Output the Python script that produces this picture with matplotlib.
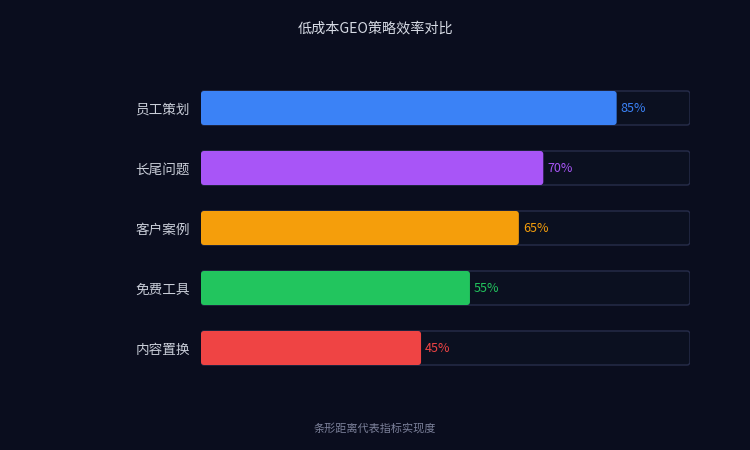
import matplotlib
matplotlib.use("Agg")
import matplotlib.pyplot as plt
from matplotlib.patches import FancyBboxPatch

plt.rcParams['font.family'] = ['Noto Sans CJK SC', 'DejaVu Sans']

# data
categories = ['员工策划', '长尾问题', '客户案例', '免费工具', '内容置换']
values = [85, 70, 65, 55, 45]
colors = ['#3b82f6', '#a855f7', '#f59e0b', '#22c55e', '#ef4444']
full = 100

bg = '#0a0d1e'
fig = plt.figure(figsize=(7.5, 4.5), dpi=100, facecolor=bg)
ax = fig.add_axes([201 / 750, 1 - 378 / 450, 489 / 750, 300 / 450])
ax.set_facecolor(bg)
ax.set_xlim(0, full)
ax.set_ylim(len(categories) - 0.5, -0.5)

ypos = list(range(len(categories)))
h = 34 / 60


def rounded(bars, fc, ec, lw, z):
    # swap plain rectangles for slightly rounded ones
    px_x = 489 / full
    px_y = 60
    r = 3 / px_x
    for b, f in zip(bars, fc):
        x0, y0 = b.get_x(), b.get_y()
        w, hh = b.get_width(), b.get_height()
        b.remove()
        p = FancyBboxPatch((x0, y0), w, hh,
                           boxstyle=f"round,pad=0,rounding_size={r}",
                           mutation_aspect=(px_x / px_y),
                           fc=f, ec=ec, lw=lw, zorder=z)
        ax.add_patch(p)


tracks = ax.barh(ypos, [full] * len(values), height=h)
rounded(tracks, ['#0b1020'] * len(values), '#272d4b', 1.0, 1)
bars = ax.barh(ypos, values, height=h)
rounded(bars, colors, 'none', 0, 2)

for y, v, c in zip(ypos, values, colors):
    ax.annotate(f'{v}%', (v, y), xytext=(3, 0), textcoords='offset points',
                va='center', ha='left', fontsize=9, color=c, zorder=3)

ax.set_yticks(ypos)
ax.set_yticklabels(categories, fontsize=9.8, color='#c9cdd8')
ax.tick_params(axis='y', length=0, pad=8)
ax.set_xticks([])
for s in ax.spines.values():
    s.set_visible(False)

fig.text(0.5, 1 - 29 / 450, '低成本GEO策略效率对比', ha='center', va='center',
         fontsize=10.2, color='#d5d9e3')
fig.text(0.5, 1 - 428 / 450, '条形距离代表指标实现度', ha='center', va='center',
         fontsize=8, color='#7b8099')

fig.savefig('out.png', dpi=100, facecolor=bg)
